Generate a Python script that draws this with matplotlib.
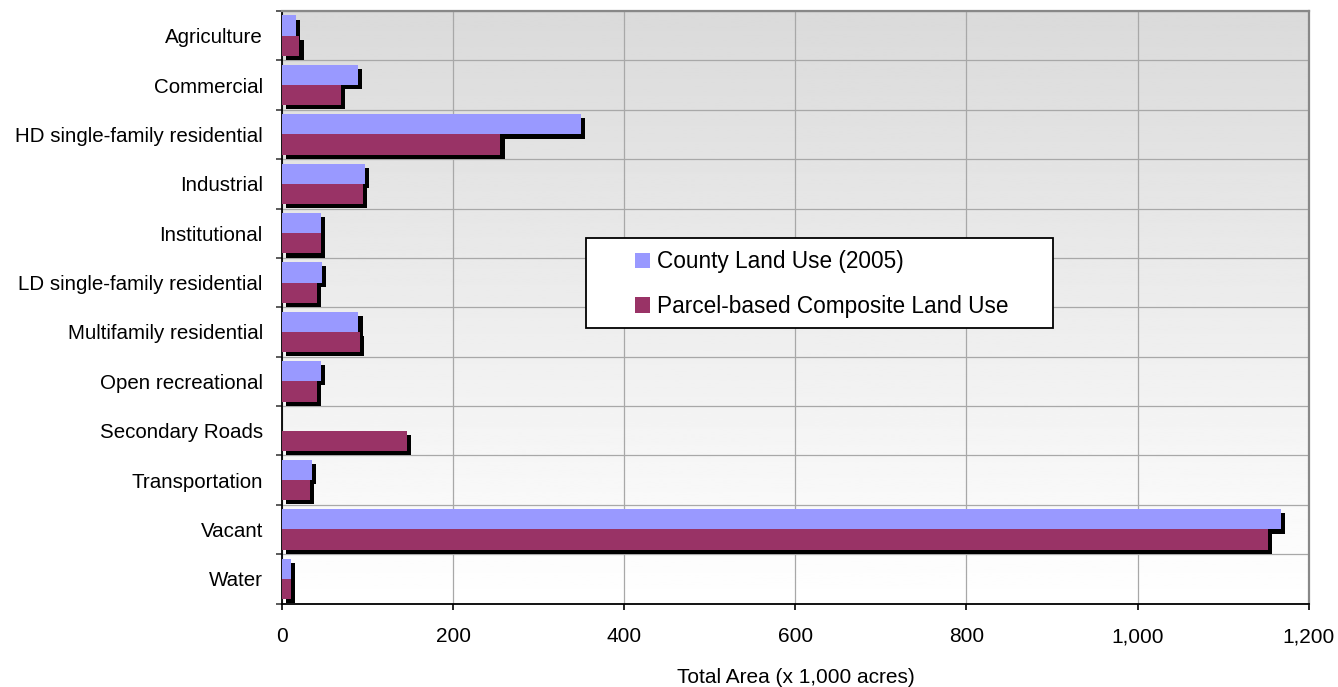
import numpy as np
import matplotlib
matplotlib.use("Agg")
import matplotlib.pyplot as plt
import matplotlib.patheffects as pe
from matplotlib.patches import Rectangle
from matplotlib.ticker import FuncFormatter

categories = ["Agriculture", "Commercial", "HD single-family residential", "Industrial",
              "Institutional", "LD single-family residential", "Multifamily residential",
              "Open recreational", "Secondary Roads", "Transportation", "Vacant", "Water"]
county = [16, 88, 349, 97, 45, 46, 89, 45, 0, 35, 1168, 10]
parcel = [20, 69, 255, 94, 45, 40, 91, 40, 146, 32, 1152, 10]
series_names = ["County Land Use (2005)", "Parcel-based Composite Land Use"]
xticks = [0, 200, 400, 600, 800, 1000, 1200]

plt.rcParams['font.family'] = ['Liberation Sans', 'DejaVu Sans']

fig = plt.figure(figsize=(13.38, 6.87), dpi=100)
ax = fig.add_axes([0.211, 0.1215, 0.767, 0.8625])

# gradient background
grad = np.linspace(0.855, 1.0, 256).reshape(-1, 1)
ax.imshow(grad, extent=[0, 1, 0, 1], transform=ax.transAxes, aspect='auto',
          cmap='gray', vmin=0, vmax=1, origin='upper', zorder=0)

y = np.arange(len(categories))
h = 0.41
shadow = [pe.SimplePatchShadow(offset=(3, -3), shadow_rgbFace='black', alpha=1.0), pe.Normal()]
b1 = ax.barh(y - h / 2, county, height=h, color='#9999FF', label=series_names[0], zorder=3)
b2 = ax.barh(y + h / 2, parcel, height=h, color='#993366', label=series_names[1], zorder=3)
for bar in list(b1) + list(b2):
    if bar.get_width() > 0:
        bar.set_path_effects(shadow)

ax.set_xlim(0, 1200)
ax.set_ylim(len(categories) - 0.5, -0.5)

ax.set_xticks(xticks)
ax.xaxis.set_major_formatter(FuncFormatter(lambda v, p: f"{int(v):,}"))
ax.set_yticks(y)
ax.set_yticklabels(categories)
ax.set_yticks(np.arange(len(categories) + 1) - 0.5, minor=True)

ax.tick_params(axis='y', which='major', length=0, pad=14, labelsize=14.8)
ax.tick_params(axis='y', which='minor', length=4, width=1.2, color='#404040', direction='out')
ax.tick_params(axis='x', which='major', length=4, width=1.2, direction='out', pad=13, labelsize=15)

ax.grid(True, axis='x', which='major', color='#a8a8a8', lw=0.9, zorder=1)
ax.grid(True, axis='y', which='minor', color='#a8a8a8', lw=0.9, zorder=1)
ax.set_axisbelow(True)

for s in ['left', 'bottom']:
    ax.spines[s].set_color('black')
    ax.spines[s].set_linewidth(1.3)
for s in ['top', 'right']:
    ax.spines[s].set_color('#888888')
    ax.spines[s].set_linewidth(1.6)

# legend box
ax.add_patch(Rectangle((0.296, 0.465), 0.455, 0.152, transform=ax.transAxes,
                       facecolor='white', edgecolor='black', lw=1.3, zorder=6))
leg = ax.legend(loc='center left', bbox_to_anchor=(0.344, 0.539), frameon=False,
                fontsize=16.3, handlelength=0.66, handleheight=0.66, handletextpad=0.3,
                labelspacing=0.96, borderpad=0, borderaxespad=0)
leg.set_zorder(7)
for hd in leg.legend_handles:
    hd.set_path_effects([])

ax.set_xlabel("Total Area (x 1,000 acres)", fontsize=15)
ax.xaxis.set_label_coords(0.5, (603.5 - 668) / 592.5)

fig.savefig("out.png", dpi=100)
